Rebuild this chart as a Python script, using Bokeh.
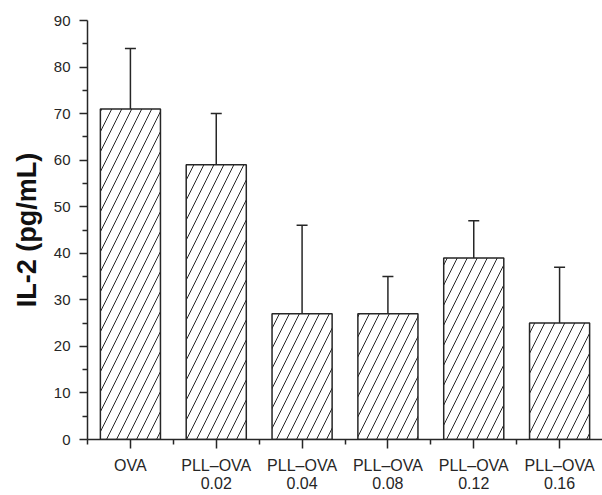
from bokeh.plotting import figure
from bokeh.models import FixedTicker, Range1d, Whisker, TeeHead, ColumnDataSource
from bokeh.embed import file_html
from bokeh.resources import INLINE

categories = ["OVA", "PLL–OVA\n0.02", "PLL–OVA\n0.04", "PLL–OVA\n0.08", "PLL–OVA\n0.12", "PLL–OVA\n0.16"]
values = [71, 59, 27, 27, 39, 25]
upper = [84, 70, 46, 35, 47, 37]
y_ticks = [0, 10, 20, 30, 40, 50, 60, 70, 80, 90]

xs = list(range(len(categories)))
src = ColumnDataSource(dict(x=xs, top=values, upper=upper))

DARK = "#262626"
FONT = "Liberation Sans"

p = figure(width=602, height=495, output_backend="svg", toolbar_location=None,
           x_range=Range1d(-0.5, len(categories) - 0.5), y_range=Range1d(0, 90),
           min_border_left=87, min_border_top=20, min_border_bottom=55, min_border_right=0)
p.outline_line_color = None
p.xgrid.visible = False
p.ygrid.visible = False
p.background_fill_color = "white"
p.border_fill_color = "white"

p.vbar(x="x", top="top", bottom=0, width=0.70, source=src,
       fill_color="white", line_color=DARK, line_width=1.5,
       hatch_pattern="right_diagonal_line", hatch_color=DARK, hatch_scale=20, hatch_weight=1)

w = Whisker(base="x", lower="top", upper="upper", source=src, dimension="height",
            line_color=DARK, line_width=1.5,
            upper_head=TeeHead(size=11, line_color=DARK, line_width=1.5), lower_head=None)
p.add_layout(w)

xa = p.xaxis[0]
xa.ticker = FixedTicker(ticks=xs, minor_ticks=[i - 0.5 for i in xs])
xa.major_label_overrides = {i: c for i, c in zip(xs, categories)}
xa.major_tick_out = 9
xa.major_tick_in = 0
xa.minor_tick_out = 5
xa.minor_tick_in = 0
xa.major_label_standoff = 8
xa.major_label_text_font = FONT
xa.major_label_text_font_size = "16px"
xa.major_label_text_line_height = 1.1
xa.major_label_text_color = DARK
xa.axis_line_color = DARK
xa.axis_line_width = 1.5
xa.major_tick_line_color = DARK
xa.minor_tick_line_color = DARK
xa.major_tick_line_width = 1.5
xa.minor_tick_line_width = 1.5

ya = p.yaxis[0]
ya.ticker = FixedTicker(ticks=y_ticks, minor_ticks=[t + 5 for t in y_ticks[:-1]])
ya.major_tick_out = 8
ya.major_tick_in = 0
ya.minor_tick_out = 5
ya.minor_tick_in = 0
ya.major_label_standoff = 9
ya.major_label_text_font = FONT
ya.major_label_text_font_size = "15px"
ya.major_label_text_color = DARK
ya.axis_line_color = DARK
ya.axis_line_width = 1.5
ya.major_tick_line_color = DARK
ya.minor_tick_line_color = DARK
ya.major_tick_line_width = 1.5
ya.minor_tick_line_width = 1.5
ya.axis_label = "IL-2 (pg/mL)"
ya.axis_label_text_font = FONT
ya.axis_label_text_font_style = "bold"
ya.axis_label_text_font_size = "27px"
ya.axis_label_text_color = "#111111"
ya.axis_label_standoff = 9

open("out.html", "w").write(file_html(p, INLINE))
